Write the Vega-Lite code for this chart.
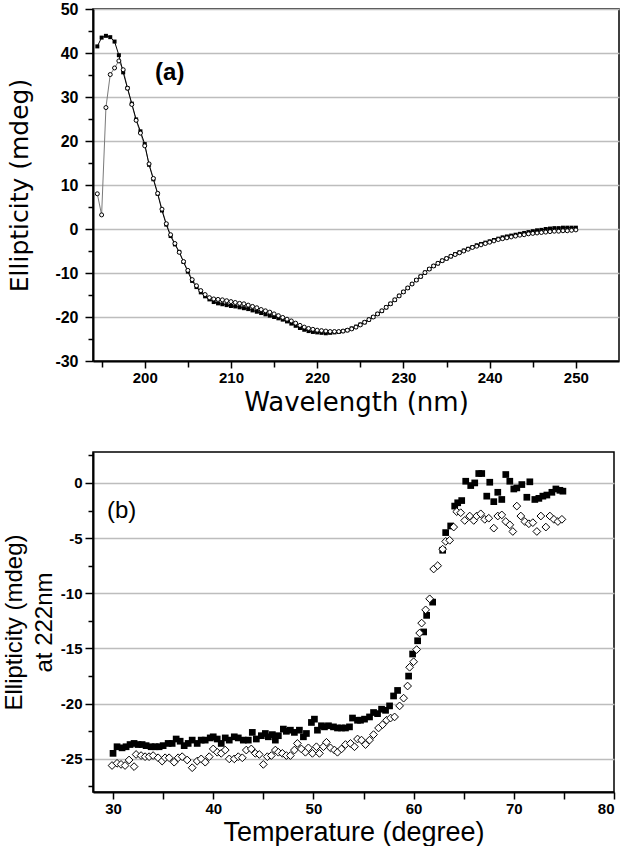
{
  "$schema": "https://vega.github.io/schema/vega-lite/v6.json",
  "background": "white",
  "padding": {"left": 1, "top": 0, "right": 0, "bottom": 0},
  "spacing": 35,
  "config": {
    "view": {"stroke": "black", "strokeWidth": 1.5},
    "axis": {
      "domainColor": "black", "domainWidth": 2,
      "tickColor": "black", "tickWidth": 1.5,
      "labelColor": "black", "titleColor": "black",
      "gridColor": "#bdbdbd", "gridWidth": 1.5,
      "labelFontWeight": "bold", "titleFontWeight": "normal"
    }
  },
  "vconcat": [
    {
      "width": 526,
      "height": 352,
      "data": {"values": [
        {"w":194.5,"b":41.5,"o":8.0},{"w":195.0,"b":43.5,"o":3.2},{"w":195.5,"b":43.9,"o":27.6},{"w":196.0,"b":43.6,"o":35.1},
        {"w":196.5,"b":42.6,"o":36.6},{"w":197.0,"b":39.5,"o":38.2},{"w":197.5,"b":35.6,"o":36.2},{"w":198.0,"b":32.0,"o":32.0},
        {"w":198.5,"b":28.5,"o":28.3},{"w":199.0,"b":24.9,"o":24.7},{"w":199.5,"b":22.2,"o":21.8},{"w":200.0,"b":19.3,"o":18.9},
        {"w":200.5,"b":14.6,"o":14.8},{"w":201.0,"b":11.3,"o":11.5},{"w":201.5,"b":8.0,"o":8.1},{"w":202.0,"b":4.2,"o":4.5},
        {"w":202.5,"b":1.0,"o":1.2},{"w":203.0,"b":-1.6,"o":-1.3},{"w":203.5,"b":-3.5,"o":-3.3},{"w":204.0,"b":-5.2,"o":-5.3},
        {"w":204.5,"b":-7.5,"o":-7.4},{"w":205.0,"b":-9.7,"o":-9.4},{"w":205.5,"b":-11.8,"o":-11.5},{"w":206.0,"b":-13.2,"o":-12.9},
        {"w":206.5,"b":-14.4,"o":-14.0},{"w":207.0,"b":-15.3,"o":-14.9},{"w":207.5,"b":-16.0,"o":-15.6},{"w":208.0,"b":-16.6,"o":-15.9},
        {"w":208.5,"b":-16.9,"o":-16.0},{"w":209.0,"b":-17.1,"o":-16.1},{"w":209.5,"b":-17.3,"o":-16.3},{"w":210.0,"b":-17.5,"o":-16.5},
        {"w":210.5,"b":-17.6,"o":-16.7},{"w":211.0,"b":-17.8,"o":-16.9},{"w":211.5,"b":-18.0,"o":-17.0},{"w":212.0,"b":-18.2,"o":-17.3},
        {"w":212.5,"b":-18.5,"o":-17.6},{"w":213.0,"b":-18.8,"o":-17.9},{"w":213.5,"b":-19.1,"o":-18.3},{"w":214.0,"b":-19.4,"o":-18.6},
        {"w":214.5,"b":-19.7,"o":-18.9},{"w":215.0,"b":-20.0,"o":-19.3},{"w":215.5,"b":-20.3,"o":-19.7},{"w":216.0,"b":-20.6,"o":-20.1},
        {"w":216.5,"b":-21.0,"o":-20.5},{"w":217.0,"b":-21.5,"o":-20.9},{"w":217.5,"b":-22.0,"o":-21.4},{"w":218.0,"b":-22.5,"o":-21.9},
        {"w":218.5,"b":-22.9,"o":-22.3},{"w":219.0,"b":-23.2,"o":-22.6},{"w":219.5,"b":-23.4,"o":-22.8},{"w":220.0,"b":-23.5,"o":-23.0},
        {"w":220.5,"b":-23.6,"o":-23.1},{"w":221.0,"b":-23.7,"o":-23.2},{"w":221.5,"b":-23.6,"o":-23.3},{"w":222.0,"b":-23.5,"o":-23.3},
        {"w":222.5,"b":-23.4,"o":-23.3},{"w":223.0,"b":-23.2,"o":-23.2},{"w":223.5,"b":-23.0,"o":-23.0},{"w":224.0,"b":-22.6,"o":-22.7},
        {"w":224.5,"b":-22.2,"o":-22.3},{"w":225.0,"b":-21.7,"o":-21.8},{"w":225.5,"b":-21.2,"o":-21.2},{"w":226.0,"b":-20.6,"o":-20.6},
        {"w":226.5,"b":-20.0,"o":-20.0},{"w":227.0,"b":-19.3,"o":-19.3},{"w":227.5,"b":-18.6,"o":-18.6},{"w":228.0,"b":-17.8,"o":-17.8},
        {"w":228.5,"b":-17.0,"o":-17.0},{"w":229.0,"b":-16.1,"o":-16.1},{"w":229.5,"b":-15.2,"o":-15.2},{"w":230.0,"b":-14.3,"o":-14.3},
        {"w":230.5,"b":-13.4,"o":-13.4},{"w":231.0,"b":-12.5,"o":-12.5},{"w":231.5,"b":-11.6,"o":-11.6},{"w":232.0,"b":-10.8,"o":-10.8},
        {"w":232.5,"b":-9.9,"o":-9.9},{"w":233.0,"b":-9.1,"o":-9.1},{"w":233.5,"b":-8.4,"o":-8.4},{"w":234.0,"b":-7.8,"o":-7.8},
        {"w":234.5,"b":-7.2,"o":-7.2},{"w":235.0,"b":-6.7,"o":-6.7},{"w":235.5,"b":-6.2,"o":-6.2},{"w":236.0,"b":-5.7,"o":-5.8},
        {"w":236.5,"b":-5.3,"o":-5.4},{"w":237.0,"b":-4.9,"o":-5.0},{"w":237.5,"b":-4.5,"o":-4.6},{"w":238.0,"b":-4.1,"o":-4.2},
        {"w":238.5,"b":-3.7,"o":-3.9},{"w":239.0,"b":-3.4,"o":-3.6},{"w":239.5,"b":-3.1,"o":-3.3},{"w":240.0,"b":-2.8,"o":-3.0},
        {"w":240.5,"b":-2.5,"o":-2.7},{"w":241.0,"b":-2.2,"o":-2.4},{"w":241.5,"b":-1.9,"o":-2.2},{"w":242.0,"b":-1.7,"o":-2.0},
        {"w":242.5,"b":-1.5,"o":-1.8},{"w":243.0,"b":-1.3,"o":-1.6},{"w":243.5,"b":-1.1,"o":-1.4},{"w":244.0,"b":-0.9,"o":-1.3},
        {"w":244.5,"b":-0.7,"o":-1.1},{"w":245.0,"b":-0.5,"o":-1.0},{"w":245.5,"b":-0.3,"o":-0.9},{"w":246.0,"b":-0.2,"o":-0.8},
        {"w":246.5,"b":0.0,"o":-0.7},{"w":247.0,"b":0.1,"o":-0.6},{"w":247.5,"b":0.2,"o":-0.5},{"w":248.0,"b":0.2,"o":-0.5},
        {"w":248.5,"b":0.3,"o":-0.4},{"w":249.0,"b":0.3,"o":-0.4},{"w":249.5,"b":0.3,"o":-0.3},{"w":250.0,"b":0.3,"o":-0.2}
      ]},
      "encoding": {
        "x": {
          "field": "w", "type": "quantitative",
          "scale": {"domain": [194, 255], "nice": false, "zero": false},
          "axis": {
            "title": "Wavelength (nm)",
            "values": [195,200,205,210,215,220,225,230,235,240,245,250],
            "labelExpr": "datum.value % 10 === 0 ? toString(datum.value) : ''",
            "tickSize": {"condition": {"test": "datum.value % 10 === 0", "value": 7}, "value": 6},
            "grid": false,
            "labelFont": "Liberation Sans", "labelFontSize": 15, "labelFontWeight": "bold", "labelPadding": 2,
            "titleFont": "DejaVu Sans", "titleFontSize": 26, "titlePadding": 4
          }
        },
        "y": {
          "field": "v", "type": "quantitative",
          "scale": {"domain": [-30, 50], "nice": false, "zero": false},
          "axis": {
            "title": "Ellipticity (mdeg)",
            "values": [-30,-25,-20,-15,-10,-5,0,5,10,15,20,25,30,35,40,45,50],
            "labelExpr": "datum.value % 10 === 0 ? toString(datum.value) : ''",
            "tickSize": {"condition": {"test": "datum.value % 10 === 0", "value": 8}, "value": 5},
            "gridOpacity": {"condition": {"test": "datum.value % 10 === 0", "value": 1}, "value": 0},
            "labelFont": "Liberation Sans", "labelFontSize": 16, "labelFontWeight": "bold", "labelPadding": 7,
            "titleFont": "DejaVu Sans", "titleFontSize": 25, "titlePadding": 22
          }
        }
      },
      "layer": [
        {
          "transform": [{"fold": ["b", "o"], "as": ["s", "v"]}, {"filter": "datum.s === 'o'"}],
          "mark": {"type": "line", "stroke": "#7a7a7a", "strokeWidth": 1}
        },
        {
          "transform": [{"fold": ["b", "o"], "as": ["s", "v"]}, {"filter": "datum.s === 'b'"}],
          "mark": {"type": "line", "stroke": "black", "strokeWidth": 1}
        },
        {
          "transform": [{"fold": ["b", "o"], "as": ["s", "v"]}, {"filter": "datum.s === 'b'"}],
          "mark": {"type": "point", "shape": "square", "filled": true, "color": "black", "size": 16, "opacity": 1}
        },
        {
          "transform": [{"fold": ["b", "o"], "as": ["s", "v"]}, {"filter": "datum.s === 'o'"}],
          "mark": {"type": "point", "shape": "circle", "filled": true, "fill": "white", "stroke": "black", "strokeWidth": 1, "size": 16, "opacity": 1}
        },
        {
          "data": {"values": [{"w": 201.2, "v": 35.5, "label": "(a)"}]},
          "mark": {"type": "text", "align": "left", "baseline": "middle", "font": "Liberation Sans", "fontSize": 24, "fontWeight": "bold", "color": "black"},
          "encoding": {"text": {"field": "label"}}
        }
      ]
    },
    {
      "width": 521,
      "height": 340,
      "data": {"values": [
        {"t":30.0,"v":-24.5,"s":"b"},{"t":30.4,"v":-23.9,"s":"b"},{"t":30.9,"v":-24.0,"s":"b"},{"t":31.3,"v":-23.9,"s":"b"},
        {"t":31.7,"v":-23.7,"s":"b"},{"t":32.1,"v":-23.6,"s":"b"},{"t":32.5,"v":-23.7,"s":"b"},{"t":32.9,"v":-23.7,"s":"b"},
        {"t":33.3,"v":-23.8,"s":"b"},{"t":33.8,"v":-23.9,"s":"b"},{"t":34.2,"v":-23.9,"s":"b"},{"t":34.6,"v":-23.9,"s":"b"},
        {"t":35.0,"v":-23.8,"s":"b"},{"t":35.5,"v":-23.6,"s":"b"},{"t":35.9,"v":-23.6,"s":"b"},{"t":36.3,"v":-23.2,"s":"b"},
        {"t":36.7,"v":-23.4,"s":"b"},{"t":37.1,"v":-23.8,"s":"b"},{"t":37.5,"v":-23.6,"s":"b"},{"t":37.9,"v":-23.3,"s":"b"},
        {"t":38.4,"v":-23.6,"s":"b"},{"t":38.8,"v":-23.3,"s":"b"},{"t":39.2,"v":-23.3,"s":"b"},{"t":39.7,"v":-23.1,"s":"b"},
        {"t":40.0,"v":-23.0,"s":"b"},{"t":40.4,"v":-23.2,"s":"b"},{"t":40.8,"v":-23.6,"s":"b"},{"t":41.2,"v":-23.1,"s":"b"},
        {"t":41.6,"v":-23.3,"s":"b"},{"t":42.1,"v":-23.0,"s":"b"},{"t":42.5,"v":-23.1,"s":"b"},{"t":43.0,"v":-23.3,"s":"b"},
        {"t":43.5,"v":-23.3,"s":"b"},{"t":43.9,"v":-22.6,"s":"b"},{"t":44.3,"v":-23.2,"s":"b"},{"t":44.8,"v":-22.9,"s":"b"},
        {"t":45.2,"v":-22.7,"s":"b"},{"t":45.5,"v":-23.0,"s":"b"},{"t":45.9,"v":-22.8,"s":"b"},{"t":46.2,"v":-23.3,"s":"b"},
        {"t":46.5,"v":-22.9,"s":"b"},{"t":47.0,"v":-22.3,"s":"b"},{"t":47.3,"v":-22.5,"s":"b"},{"t":47.7,"v":-22.4,"s":"b"},
        {"t":48.1,"v":-22.6,"s":"b"},{"t":48.6,"v":-22.4,"s":"b"},{"t":49.0,"v":-23.0,"s":"b"},{"t":49.3,"v":-22.7,"s":"b"},
        {"t":49.8,"v":-21.7,"s":"b"},{"t":50.1,"v":-21.4,"s":"b"},{"t":50.4,"v":-22.4,"s":"b"},{"t":50.8,"v":-22.0,"s":"b"},
        {"t":51.1,"v":-22.1,"s":"b"},{"t":51.5,"v":-22.0,"s":"b"},{"t":52.0,"v":-22.1,"s":"b"},{"t":52.4,"v":-22.2,"s":"b"},
        {"t":52.8,"v":-22.2,"s":"b"},{"t":53.2,"v":-22.2,"s":"b"},{"t":53.6,"v":-22.1,"s":"b"},{"t":53.9,"v":-21.3,"s":"b"},
        {"t":54.4,"v":-21.5,"s":"b"},{"t":54.7,"v":-21.5,"s":"b"},{"t":55.1,"v":-21.4,"s":"b"},{"t":55.6,"v":-21.2,"s":"b"},
        {"t":56.0,"v":-20.8,"s":"b"},{"t":56.4,"v":-20.9,"s":"b"},{"t":56.8,"v":-20.5,"s":"b"},{"t":57.2,"v":-20.6,"s":"b"},
        {"t":57.6,"v":-20.2,"s":"b"},{"t":58.0,"v":-19.3,"s":"b"},{"t":58.4,"v":-18.8,"s":"b"},{"t":59.5,"v":-17.5,"s":"b"},
        {"t":59.9,"v":-15.5,"s":"b"},{"t":60.4,"v":-14.3,"s":"b"},{"t":61.0,"v":-13.5,"s":"b"},{"t":61.3,"v":-12.0,"s":"b"},
        {"t":61.9,"v":-10.8,"s":"b"},{"t":62.9,"v":-6.1,"s":"b"},{"t":63.2,"v":-4.5,"s":"b"},{"t":63.7,"v":-3.9,"s":"b"},
        {"t":64.1,"v":-2.1,"s":"b"},{"t":64.4,"v":-1.8,"s":"b"},{"t":64.8,"v":-1.6,"s":"b"},{"t":65.2,"v":0.15,"s":"b"},
        {"t":65.7,"v":-0.24,"s":"b"},{"t":66.1,"v":0.0,"s":"b"},{"t":66.5,"v":0.85,"s":"b"},{"t":66.8,"v":0.85,"s":"b"},
        {"t":67.3,"v":-1.2,"s":"b"},{"t":67.6,"v":0.06,"s":"b"},{"t":68.0,"v":-1.7,"s":"b"},{"t":68.4,"v":-0.85,"s":"b"},
        {"t":68.8,"v":-1.5,"s":"b"},{"t":69.2,"v":0.76,"s":"b"},{"t":69.6,"v":0.15,"s":"b"},{"t":70.0,"v":-0.55,"s":"b"},
        {"t":70.3,"v":-0.45,"s":"b"},{"t":70.8,"v":-0.15,"s":"b"},{"t":71.3,"v":-1.3,"s":"b"},{"t":71.6,"v":0.1,"s":"b"},
        {"t":72.1,"v":-1.5,"s":"b"},{"t":72.5,"v":-1.4,"s":"b"},{"t":72.9,"v":-1.2,"s":"b"},{"t":73.3,"v":-1.1,"s":"b"},
        {"t":73.8,"v":-0.85,"s":"b"},{"t":74.2,"v":-0.55,"s":"b"},{"t":74.6,"v":-0.67,"s":"b"},{"t":74.9,"v":-0.75,"s":"b"},
        {"t":29.9,"v":-25.6,"s":"o"},{"t":30.4,"v":-25.4,"s":"o"},{"t":30.8,"v":-25.5,"s":"o"},{"t":31.2,"v":-25.6,"s":"o"},
        {"t":31.6,"v":-25.1,"s":"o"},{"t":32.1,"v":-25.7,"s":"o"},{"t":32.3,"v":-24.6,"s":"o"},{"t":32.8,"v":-24.7,"s":"o"},
        {"t":33.2,"v":-24.8,"s":"o"},{"t":33.6,"v":-24.8,"s":"o"},{"t":34.0,"v":-24.7,"s":"o"},{"t":34.5,"v":-24.9,"s":"o"},
        {"t":34.9,"v":-25.2,"s":"o"},{"t":35.2,"v":-24.9,"s":"o"},{"t":35.6,"v":-24.9,"s":"o"},{"t":36.1,"v":-25.3,"s":"o"},
        {"t":36.5,"v":-24.9,"s":"o"},{"t":36.9,"v":-24.8,"s":"o"},{"t":37.4,"v":-25.1,"s":"o"},{"t":37.9,"v":-25.8,"s":"o"},
        {"t":38.4,"v":-25.2,"s":"o"},{"t":38.8,"v":-25.0,"s":"o"},{"t":39.2,"v":-25.3,"s":"o"},{"t":39.6,"v":-24.8,"s":"o"},
        {"t":40.0,"v":-24.1,"s":"o"},{"t":40.4,"v":-24.4,"s":"o"},{"t":40.8,"v":-24.5,"s":"o"},{"t":41.2,"v":-24.2,"s":"o"},
        {"t":41.6,"v":-25.0,"s":"o"},{"t":42.1,"v":-25.0,"s":"o"},{"t":42.5,"v":-24.8,"s":"o"},{"t":42.9,"v":-24.9,"s":"o"},
        {"t":43.3,"v":-24.2,"s":"o"},{"t":43.8,"v":-24.1,"s":"o"},{"t":44.2,"v":-24.5,"s":"o"},{"t":44.6,"v":-24.6,"s":"o"},
        {"t":45.0,"v":-25.5,"s":"o"},{"t":45.4,"v":-24.8,"s":"o"},{"t":45.8,"v":-24.7,"s":"o"},{"t":46.2,"v":-24.2,"s":"o"},
        {"t":46.5,"v":-24.4,"s":"o"},{"t":46.9,"v":-24.5,"s":"o"},{"t":47.3,"v":-24.7,"s":"o"},{"t":47.7,"v":-24.7,"s":"o"},
        {"t":48.1,"v":-24.2,"s":"o"},{"t":48.4,"v":-23.6,"s":"o"},{"t":48.8,"v":-24.1,"s":"o"},{"t":49.2,"v":-24.4,"s":"o"},
        {"t":49.5,"v":-24.0,"s":"o"},{"t":49.9,"v":-24.5,"s":"o"},{"t":50.3,"v":-23.9,"s":"o"},{"t":50.6,"v":-24.5,"s":"o"},
        {"t":51.0,"v":-23.9,"s":"o"},{"t":51.3,"v":-23.5,"s":"o"},{"t":51.7,"v":-24.0,"s":"o"},{"t":52.1,"v":-24.2,"s":"o"},
        {"t":52.4,"v":-24.4,"s":"o"},{"t":52.8,"v":-24.1,"s":"o"},{"t":53.2,"v":-23.7,"s":"o"},{"t":53.7,"v":-23.6,"s":"o"},
        {"t":54.1,"v":-23.9,"s":"o"},{"t":54.4,"v":-23.2,"s":"o"},{"t":54.8,"v":-23.3,"s":"o"},{"t":55.2,"v":-23.7,"s":"o"},
        {"t":55.6,"v":-23.3,"s":"o"},{"t":56.0,"v":-22.8,"s":"o"},{"t":56.5,"v":-22.2,"s":"o"},{"t":56.9,"v":-21.9,"s":"o"},
        {"t":57.3,"v":-21.5,"s":"o"},{"t":57.7,"v":-21.3,"s":"o"},{"t":58.1,"v":-21.2,"s":"o"},{"t":58.6,"v":-20.2,"s":"o"},
        {"t":59.0,"v":-19.5,"s":"o"},{"t":59.4,"v":-18.4,"s":"o"},{"t":59.6,"v":-16.7,"s":"o"},{"t":60.0,"v":-16.2,"s":"o"},
        {"t":60.3,"v":-15.1,"s":"o"},{"t":60.6,"v":-13.6,"s":"o"},{"t":60.8,"v":-12.7,"s":"o"},{"t":61.2,"v":-11.5,"s":"o"},
        {"t":61.6,"v":-10.5,"s":"o"},{"t":62.0,"v":-7.8,"s":"o"},{"t":62.4,"v":-7.5,"s":"o"},{"t":62.9,"v":-6.0,"s":"o"},
        {"t":63.2,"v":-5.3,"s":"o"},{"t":63.6,"v":-5.2,"s":"o"},{"t":64.0,"v":-4.0,"s":"o"},{"t":64.3,"v":-2.6,"s":"o"},
        {"t":64.7,"v":-2.7,"s":"o"},{"t":65.1,"v":-3.4,"s":"o"},{"t":65.6,"v":-3.0,"s":"o"},{"t":66.0,"v":-3.4,"s":"o"},
        {"t":66.3,"v":-3.0,"s":"o"},{"t":66.7,"v":-2.8,"s":"o"},{"t":67.1,"v":-3.3,"s":"o"},{"t":67.5,"v":-3.2,"s":"o"},
        {"t":68.0,"v":-4.1,"s":"o"},{"t":68.4,"v":-3.0,"s":"o"},{"t":68.8,"v":-2.9,"s":"o"},{"t":69.2,"v":-3.5,"s":"o"},
        {"t":69.6,"v":-3.8,"s":"o"},{"t":69.9,"v":-4.4,"s":"o"},{"t":70.3,"v":-2.1,"s":"o"},{"t":70.7,"v":-3.0,"s":"o"},
        {"t":71.1,"v":-3.5,"s":"o"},{"t":71.5,"v":-3.7,"s":"o"},{"t":71.9,"v":-3.6,"s":"o"},{"t":72.3,"v":-4.4,"s":"o"},
        {"t":72.7,"v":-3.0,"s":"o"},{"t":73.2,"v":-4.0,"s":"o"},{"t":73.6,"v":-3.0,"s":"o"},{"t":74.0,"v":-3.3,"s":"o"},
        {"t":74.4,"v":-3.5,"s":"o"},{"t":74.8,"v":-3.3,"s":"o"}
      ]},
      "encoding": {
        "x": {
          "field": "t", "type": "quantitative",
          "scale": {"domain": [28, 80], "nice": false, "zero": false},
          "axis": {
            "title": "Temperature (degree)",
            "values": [30,35,40,45,50,55,60,65,70,75,80],
            "labelExpr": "datum.value % 10 === 0 ? toString(datum.value) : ''",
            "tickSize": 7,
            "grid": false,
            "labelFont": "Liberation Sans Narrow, Liberation Sans", "labelFontSize": 15, "labelFontWeight": "bold", "labelPadding": 2,
            "titleFont": "Liberation Sans", "titleFontSize": 27, "titlePadding": 3
          }
        },
        "y": {
          "field": "v", "type": "quantitative",
          "scale": {"domain": [-28, 2.8], "nice": false, "zero": false},
          "axis": {
            "title": ["Ellipticity (mdeg)", "at 222nm"],
            "values": [-27.5,-25,-22.5,-20,-17.5,-15,-12.5,-10,-7.5,-5,-2.5,0,2.5],
            "labelExpr": "datum.value % 5 === 0 ? toString(datum.value) : ''",
            "tickSize": {"condition": {"test": "datum.value % 5 === 0", "value": 8}, "value": 5},
            "gridOpacity": {"condition": {"test": "datum.value % 5 === 0", "value": 1}, "value": 0},
            "labelFont": "Liberation Sans Narrow, Liberation Sans", "labelFontSize": 15, "labelFontWeight": "bold", "labelPadding": 3,
            "titleFont": "Liberation Sans", "titleFontSize": 24, "titlePadding": 4, "titleLineHeight": 30
          }
        }
      },
      "layer": [
        {
          "transform": [{"filter": "datum.s === 'b'"}],
          "mark": {"type": "point", "shape": "square", "filled": true, "color": "black", "size": 45, "opacity": 1}
        },
        {
          "transform": [{"filter": "datum.s === 'o'"}],
          "mark": {"type": "point", "shape": "diamond", "filled": true, "fill": "white", "stroke": "black", "strokeWidth": 1, "size": 60, "opacity": 1}
        },
        {
          "data": {"values": [{"t": 29.4, "v": -2.5, "label": "(b)"}]},
          "mark": {"type": "text", "align": "left", "baseline": "middle", "font": "Liberation Sans", "fontSize": 24, "color": "black"},
          "encoding": {"text": {"field": "label"}}
        }
      ]
    }
  ]
}
